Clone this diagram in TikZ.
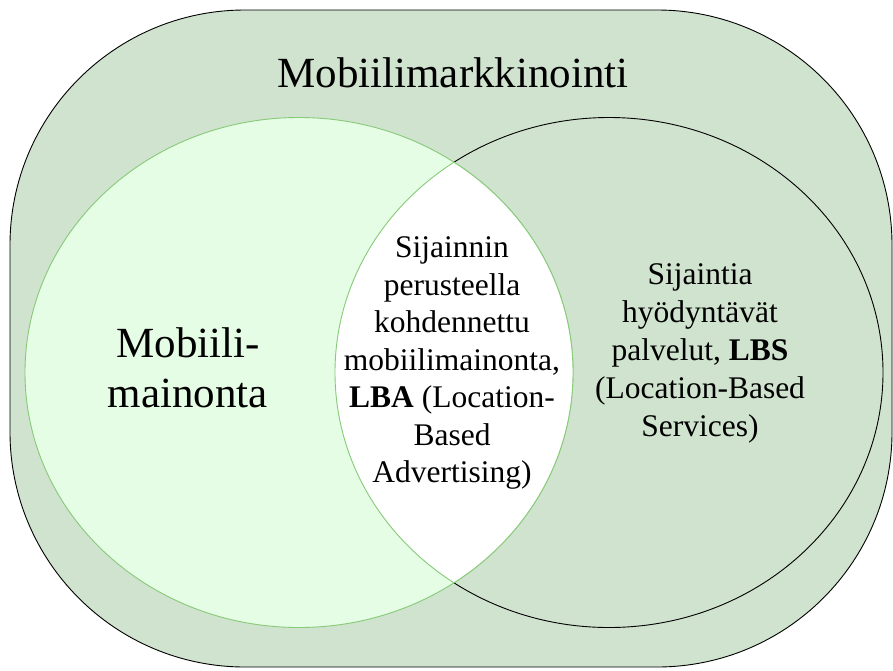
\documentclass[tikz,border=0pt]{standalone}
\usepackage{fontspec}
\setmainfont{Liberation Serif}
\definecolor{outerfill}{RGB}{207,227,206}
\definecolor{leftfill}{RGB}{229,252,229}
\definecolor{greenline}{RGB}{135,202,120}
\begin{document}
\begin{tikzpicture}[x=1pt,y=-1pt,
  lbl/.style={inner sep=0pt,align=center,text=black},
  bigtxt/.style={font={\fontsize{43}{50}\selectfont}},
  smalltxt/.style={font={\fontsize{31.5}{37.5}\selectfont}},
  setline/.style={line width=0.9pt}]
\useasboundingbox (0,0) rectangle (893,670);
% outer rounded rectangle
\draw[setline,fill=outerfill,draw=black,rounded corners=235pt] (10,10) rectangle (892,667);
% right circle
\draw[setline,draw=black,fill=outerfill] (609,372.5) ellipse [x radius=274, y radius=255];
% left circle
\draw[setline,draw=greenline,fill=leftfill] (299,372.5) ellipse [x radius=274, y radius=255];
% lens
\begin{scope}
  \clip (299,372.5) ellipse [x radius=274, y radius=255];
  \draw[setline,draw=greenline,fill=white] (609,372.5) ellipse [x radius=274, y radius=255];
\end{scope}
\begin{scope}
  \clip (609,372.5) ellipse [x radius=274, y radius=255];
  \draw[setline,draw=greenline] (299,372.5) ellipse [x radius=274, y radius=255];
\end{scope}
% texts
\node[lbl,bigtxt,anchor=base] (title) at (453,87) {Mobiilimarkkinointi};
\node[lbl,bigtxt] (leftlbl) at (188,368) {Mobiili-\\mainonta};
\node[lbl,smalltxt] (midlbl) at (452,363) {Sijainnin\\perusteella\\kohdennettu\\mobiilimainonta,\\\textbf{LBA} (Location-\\Based\\Advertising)};
\node[lbl,smalltxt,font={\fontsize{31.5}{38}\selectfont}] (rightlbl) at (700,353) {Sijaintia\\hyödyntävät\\palvelut, \textbf{LBS}\\(Location-Based\\Services)};
\end{tikzpicture}
\end{document}
